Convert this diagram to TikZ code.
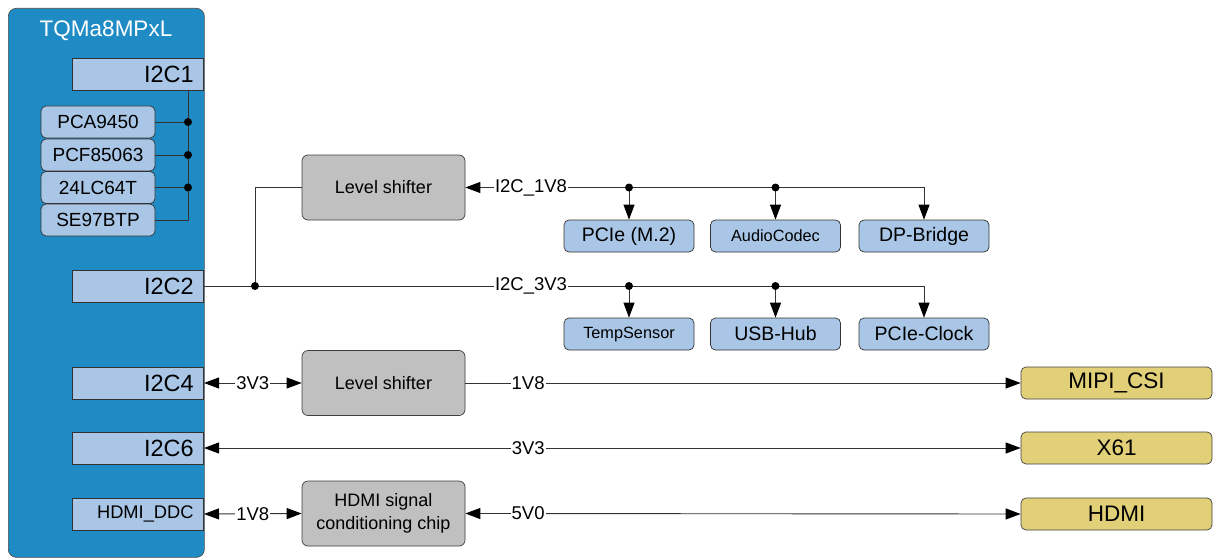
\documentclass[tikz,border=0pt]{standalone}
\usepackage{fontspec}
\setmainfont{Liberation Sans}
\usetikzlibrary{arrows.meta,calc}
\definecolor{blk}{RGB}{30,139,197}
\definecolor{portc}{RGB}{169,198,230}
\definecolor{grayc}{RGB}{192,192,192}
\definecolor{yelc}{RGB}{226,208,120}
\begin{document}
\begin{tikzpicture}[x=1pt,y=-1pt,
  port/.style={draw=black!80, fill=portc, line width=0.7pt, minimum height=32pt, text width=111pt, align=right, inner xsep=10pt, inner ysep=0pt, font=\fontsize{23.5}{25}\selectfont, anchor=east},
  dev/.style={draw=black!80, fill=portc, line width=0.7pt, rounded corners=5pt, minimum width=114pt, minimum height=32pt, inner sep=0pt, font=\fontsize{19}{21}\selectfont},
  peri/.style={draw=black!80, fill=portc, line width=0.7pt, rounded corners=5pt, minimum width=130pt, minimum height=32pt, inner sep=0pt, font=\fontsize{19.5}{21}\selectfont},
  shifter/.style={draw=black!75, fill=grayc, line width=0.7pt, rounded corners=6pt, minimum width=163pt, minimum height=65pt, inner sep=0pt, align=center, font=\fontsize{18}{23}\selectfont},
  conn/.style={draw=black!75, fill=yelc, line width=0.7pt, rounded corners=5pt, minimum width=191pt, minimum height=32pt, inner sep=0pt, font=\fontsize{22.5}{24}\selectfont},
  lbl/.style={fill=white, inner xsep=1pt, inner ysep=0pt, font=\fontsize{18.5}{20}\selectfont},
  wire/.style={draw=black!80, line width=0.9pt},
  tri/.style={-{Triangle[length=15pt,width=11pt,color=black]}},
  bitri/.style={{Triangle[length=15pt,width=11pt,color=black]}-{Triangle[length=15pt,width=11pt,color=black]}},
  dot/.style={circle, fill=black, inner sep=0pt, minimum size=8pt}]
\useasboundingbox (0,0) rectangle (1217,559);
% SoM block
\node[draw=black!70, fill=blk, line width=0.7pt, rounded corners=8pt, minimum width=196pt, minimum height=549pt, inner sep=0pt, anchor=north west] (som) at (8,8) {};
\node[text=white, font=\fontsize{22.5}{24}\selectfont] (title) at (106,31) {TQMa8MPxL};
% ports
\node[port] (i2c1) at (204,74) {I2C1};
\node[port] (i2c2) at (204,286) {I2C2};
\node[port] (i2c4) at (204,383) {I2C4};
\node[port] (i2c6) at (204,448) {I2C6};
\node[port, font=\fontsize{18.3}{20}\selectfont] (ddc) at (204,514) {HDMI\_DDC};
% on-module devices
\node[dev] (pca) at (98,122) {PCA9450};
\node[dev] (pcf) at (98,155) {PCF85063};
\node[dev] (eep) at (98,187.5) {24LC64T};
\node[dev] (se9) at (98,220) {SE97BTP};
% bus I2C1
\coordinate (bx) at (188,0);
\draw[wire] (i2c1.south -| bx) -- (bx |- se9.east) -- (se9.east);
\draw[wire] (pca.east) -- (bx |- pca.east) node[dot] {};
\draw[wire] (pcf.east) -- (bx |- pcf.east) node[dot] {};
\draw[wire] (eep.east) -- (bx |- eep.east) node[dot] {};
% level shifters and chip
\node[shifter] (ls1) at (383.5,187.5) {Level shifter};
\node[shifter] (ls2) at (383.5,383) {Level shifter};
\node[shifter] (hsc) at (383.5,513.5) {HDMI signal\\conditioning chip};
% peripherals
\node[peri] (pcie) at (629,236) {PCIe (M.2)};
\node[peri, font=\fontsize{16.3}{18}\selectfont] (aud) at (775.5,236) {AudioCodec};
\node[peri] (dpb) at (924,236) {DP-Bridge};
\node[peri, font=\fontsize{16.3}{18}\selectfont] (tmp) at (629,334) {TempSensor};
\node[peri] (usb) at (775.5,334) {USB-Hub};
\node[peri] (pclk) at (924,334) {PCIe-Clock};
% connectors
\node[conn] (mipi) at (1116.5,383) {MIPI\_CSI};
\node[conn] (x61) at (1116.5,448) {X61};
\node[conn] (hdmi) at (1116.5,514) {HDMI};
% I2C2 / 3V3 bus
\coordinate (j1) at (255,286);
\draw[wire, tri] (i2c2.east) -- (pclk.north |- i2c2.east) -- (pclk.north);
\node[lbl] (l3v3) at (531,286) {I2C\_3V3};
\draw[wire] (ls1.west) -- (j1 |- ls1.west) -- (j1);
\node[dot] (d0) at (j1) {};
\draw[wire, tri] (tmp.north |- i2c2.east) node[dot] {} -- (tmp.north);
\draw[wire, tri] (usb.north |- i2c2.east) node[dot] {} -- (usb.north);
% 1V8 bus
\draw[wire, bitri] (ls1.east) -- (dpb.north |- ls1.east) -- (dpb.north);
\node[lbl] (l1v8) at (531,187.5) {I2C\_1V8};
\draw[wire, tri] (pcie.north |- ls1.east) node[dot] {} -- (pcie.north);
\draw[wire, tri] (aud.north |- ls1.east) node[dot] {} -- (aud.north);
% lower links
\draw[wire, bitri] (i2c4.east) -- node[lbl] {3V3} (ls2.west);
\draw[wire, tri] (ls2.east) -- node[lbl, pos=0.113] {1V8} (mipi.west);
\draw[wire, bitri] (i2c6.east) -- node[lbl, pos=0.397] {3V3} (x61.west);
\draw[wire, bitri] (ddc.east) -- node[lbl] {1V8} (hsc.west);
\draw[wire, bitri] (hsc.east) -- node[lbl, pos=0.113] {5V0} (hdmi.west);
\end{tikzpicture}
\end{document}
